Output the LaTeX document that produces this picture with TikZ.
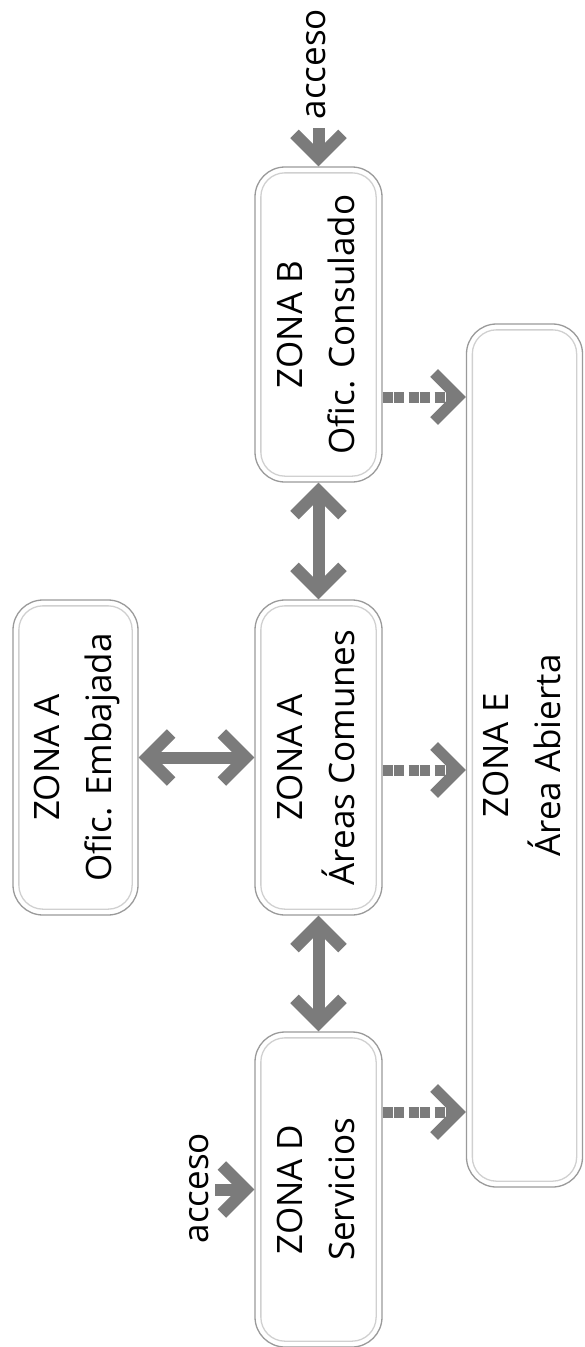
\documentclass[tikz,border=0pt]{standalone}
\usepackage{graphicx}
\usepackage{fontspec}
\setmainfont{Open Sans}
\usetikzlibrary{arrows.meta,calc}
\definecolor{agray}{HTML}{7B7B7B}
\definecolor{bouter}{HTML}{9A9A9A}
\definecolor{binner}{HTML}{D0D0D0}
\newcommand{\rtext}[1]{\rotatebox{90}{\begin{tabular}{@{}c@{}}#1\end{tabular}}}
\tikzset{
  zone/.style={draw=bouter, line width=1.3pt, rounded corners=30pt, inner sep=0pt,
    minimum width=127pt, minimum height=315pt, font=\fontsize{35}{52}\selectfont},
  zinner/.style={draw=binner, line width=1.3pt, rounded corners=24pt},
  hd/.tip={Straight Barb[length=24pt,width=48pt]},
  solidarrow/.style={draw=agray, line width=12pt},
  dasharrow/.style={draw=agray, line width=11pt, dash pattern=on 10pt off 1pt on 10pt off 5pt},
  lbl/.style={font=\fontsize{35}{52}\selectfont, inner sep=0pt}
}
\begin{document}
\begin{tikzpicture}[x=1pt,y=-1pt]
\useasboundingbox (0,0) rectangle (584,1347);
% zones
\node[zone] (B) at (318.5,324.5) {\rtext{ZONA B\\Ofic. Consulado}};
\node[zone] (A) at (318.5,757.5) {\rtext{ZONA A\\Áreas Comunes}};
\node[zone] (D) at (318.5,1189.5) {\rtext{ZONA D\\Servicios}};
\node[zone, minimum width=125pt] (Emb) at (75.5,757.5) {\rtext{ZONA A\\Ofic. Embajada}};
\node[zone, minimum width=116pt, minimum height=863pt] (E) at (524.5,755.5) {\rtext{ZONA E\\Área Abierta}};
\foreach \n in {B,A,D,Emb,E}
  \draw[zinner] ($(\n.north west)+(6.5,6.5)$) rectangle ($(\n.south east)-(6.5,6.5)$);
% access labels
\node[lbl, rotate=90] (acc1) at (316.5,64) {acceso};
\node[lbl, rotate=90] (acc2) at (199.5,1188) {acceso};
\coordinate (accB) at (318.5,128);
\coordinate (accD) at (215,1189.5);
% solid arrows
\draw[solidarrow, -hd] (accB) -- (B.north);
\draw[solidarrow, -hd] (accD) -- (D.west);
\draw[solidarrow, hd-hd] (B.south) -- (A.north);
\draw[solidarrow, hd-hd] (A.south) -- (D.north);
\draw[solidarrow, hd-hd] (Emb.east) -- (A.west);
% dashed arrows
\coordinate (yB) at (0,397);
\coordinate (yA) at (0,770);
\coordinate (yD) at (0,1112);
\draw[dasharrow, -hd] (B.east |- yB) -- (E.west |- yB);
\draw[dasharrow, -hd] (A.east |- yA) -- (E.west |- yA);
\draw[dasharrow, -hd] (D.east |- yD) -- (E.west |- yD);
\end{tikzpicture}
\end{document}
